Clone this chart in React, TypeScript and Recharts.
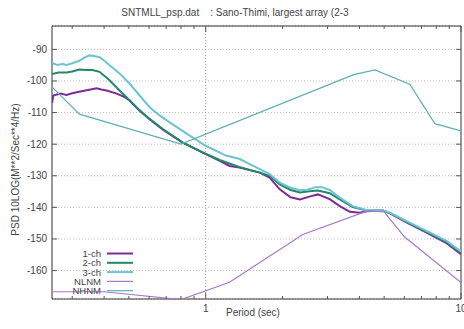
import React from 'react';
import { LineChart, Line, XAxis, YAxis, CartesianGrid, ReferenceLine, ReferenceArea } from 'recharts';

// PSD spectra, [period (sec), dB]
const ch1: [number, number][] = [
  [0.25, -107.0], [0.253, -104.6], [0.27, -104.0], [0.285, -104.4], [0.3, -103.9], [0.33, -103.2],
  [0.35, -102.8], [0.374, -102.3], [0.39, -102.7], [0.409, -103.0], [0.448, -104.0], [0.482, -105.1],
  [0.503, -106.2], [0.551, -109.4], [0.603, -112.1], [0.678, -115.3], [0.812, -119.5], [0.973, -122.7],
  [1.135, -125.3], [1.24, -126.9], [1.36, -127.4], [1.5, -128.3], [1.63, -129.0], [1.78, -130.6],
  [1.95, -134.3], [2.15, -136.8], [2.34, -137.5], [2.55, -136.6], [2.75, -135.9], [3.06, -137.4],
  [3.35, -139.6], [3.67, -141.4], [4.02, -141.7], [4.27, -141.2], [4.94, -141.0], [5.27, -141.9],
  [6.14, -144.8], [7.36, -148.1], [8.81, -151.4], [9.7, -154.0], [10, -154.8],
];

const ch2: [number, number][] = [
  [0.25, -97.8], [0.265, -97.3], [0.285, -97.3], [0.3, -97.0], [0.32, -96.4], [0.34, -96.5],
  [0.36, -96.5], [0.384, -97.1], [0.42, -99.8], [0.46, -103.0], [0.503, -106.1], [0.551, -109.3],
  [0.603, -112.0], [0.678, -115.2], [0.812, -119.4], [0.973, -122.6], [1.135, -125.0], [1.36, -127.3],
  [1.63, -129.0], [1.78, -130.0], [1.95, -132.7], [2.15, -134.5], [2.34, -135.3], [2.55, -134.9],
  [2.75, -134.7], [3.06, -135.5], [3.35, -137.5], [3.77, -139.9], [4.27, -141.0], [4.94, -141.0],
  [5.27, -141.8], [6.14, -144.6], [7.36, -147.8], [8.81, -151.0], [9.7, -153.6], [10, -154.3],
];

const ch3: [number, number][] = [
  [0.25, -94.3], [0.262, -94.9], [0.275, -94.6], [0.285, -94.9], [0.3, -94.4], [0.32, -93.6],
  [0.335, -92.6], [0.35, -91.9], [0.365, -92.1], [0.384, -92.5], [0.4, -93.5], [0.42, -95.0],
  [0.46, -97.6], [0.503, -100.8], [0.551, -104.6], [0.603, -108.3], [0.66, -110.9], [0.722, -113.1],
  [0.866, -117.3], [1.0, -120.5], [1.2, -123.6], [1.36, -124.7], [1.5, -126.5], [1.63, -127.9],
  [1.78, -129.5], [1.95, -132.2], [2.15, -133.8], [2.34, -134.6], [2.5, -134.4], [2.7, -133.6],
  [2.85, -133.6], [3.06, -134.5], [3.35, -136.9], [3.77, -139.6], [4.27, -140.9], [4.94, -141.0],
  [5.27, -141.7], [6.14, -144.4], [7.36, -147.5], [8.81, -150.7], [9.7, -153.2], [10, -154.0],
];

// Peterson low / high noise models
const nlnm: [number, number][] = [
  [0.25, -166.7], [0.4, -166.7], [0.8, -169.2], [1.24, -163.7], [2.4, -148.6],
  [4.3, -141.1], [5.0, -141.4], [6.0, -149.3], [10, -163.8],
];

const nhnm: [number, number][] = [
  [0.25, -101.9], [0.32, -110.5], [0.8, -120.0], [3.8, -98.0], [4.6, -96.5],
  [6.3, -101.0], [7.9, -113.5], [10, -115.8],
];

const xTicks = [0.3, 0.4, 0.5, 0.6, 0.7, 0.8, 0.9, 1, 2, 3, 4, 5, 6, 7, 8, 9, 10];
const yTicks = [-160, -150, -140, -130, -120, -110, -100, -90];

const series = [
  { name: '1-ch', data: ch1, color: '#7d2a98', width: 2 },
  { name: '2-ch', data: ch2, color: '#23876a', width: 2 },
  { name: '3-ch', data: ch3, color: '#6cc3d3', width: 2 },
  { name: 'NLNM', data: nlnm, color: '#a878c6', width: 1.2 },
  { name: 'NHNM', data: nhnm, color: '#5eafb0', width: 1.2 },
];

const FONT = '"Liberation Sans", Arial, sans-serif';
const PLOT_TOP = 26;
const PLOT_LEFT = 52;
const PLOT_RIGHT = 461;

const toRows = (pts: [number, number][]) => pts.map(([period, psd]) => ({ period, psd }));

const XTick = ({ x, y, payload }: any) => {
  const major = payload.value === 1 || payload.value === 10;
  const len = major ? 6 : 3;
  return (
    <g>
      <line x1={x} x2={x} y1={y} y2={y - len} stroke="#555" />
      <line x1={x} x2={x} y1={PLOT_TOP} y2={PLOT_TOP + len} stroke="#555" />
      {major && (
        <text x={x} y={y + 13} textAnchor="middle" fontSize={10} fill="#444" fontFamily={FONT}>
          {payload.value}
        </text>
      )}
    </g>
  );
};

const YTick = ({ x, y, payload }: any) => (
  <g>
    <line x1={x} x2={x + 5} y1={y} y2={y} stroke="#555" />
    <line x1={PLOT_RIGHT - 5} x2={PLOT_RIGHT} y1={y} y2={y} stroke="#555" />
    <text x={x - 5} y={y + 3.5} textAnchor="end" fontSize={10} fill="#444" fontFamily={FONT}>
      {payload.value}
    </text>
  </g>
);

// key drawn over the lower-left corner of the plot
const LegendBox = () => (
  <svg width={140} height={50} style={{ position: 'absolute', left: 0, top: 248 }}>
    {series.map((s, i) => (
      <g key={s.name}>
        <text x={101} y={9 + i * 9.3} textAnchor="end" fontSize={9.5} fill="#444" fontFamily={FONT}>
          {s.name}
        </text>
        <line x1={107} x2={133} y1={5.5 + i * 9.3} y2={5.5 + i * 9.3} stroke={s.color} strokeWidth={s.width} />
      </g>
    ))}
  </svg>
);

export default function App() {
  return (
    <div style={{ position: 'absolute', left: 0, top: 0, width: 464, height: 329, background: '#fff', fontFamily: FONT }}>
      <div style={{ position: 'absolute', left: 0, width: 470, top: 7, textAlign: 'center', fontSize: 10, color: '#444', whiteSpace: 'pre' }}>
        {'SNTMLL_psp.dat    : Sano-Thimi, largest array (2-3'}
      </div>
      <LineChart width={464} height={329} margin={{ top: PLOT_TOP, right: 3, bottom: 0, left: 0 }}>
        <CartesianGrid vertical={false} stroke="#bbb" strokeDasharray="1 2" />
        <XAxis
          dataKey="period"
          type="number"
          scale="log"
          domain={[0.25, 10]}
          allowDataOverflow
          ticks={xTicks}
          interval={0}
          height={30}
          tickSize={0}
          tickMargin={0}
          axisLine={false}
          tick={<XTick />}
        />
        <YAxis
          type="number"
          domain={[-169, -82.6]}
          allowDataOverflow
          ticks={yTicks}
          interval={0}
          width={PLOT_LEFT}
          tickSize={0}
          tickMargin={0}
          axisLine={false}
          tick={<YTick />}
        />
        <ReferenceLine x={1} stroke="#999" strokeDasharray="1 2" />
        {series.map((s) => (
          <Line
            key={s.name}
            data={toRows(s.data)}
            dataKey="psd"
            name={s.name}
            stroke={s.color}
            strokeWidth={s.width}
            dot={false}
            activeDot={false}
            isAnimationActive={false}
          />
        ))}
        <ReferenceArea x1={0.25} x2={10} y1={-169} y2={-82.6} fill="none" stroke="#333" strokeWidth={1} />
      </LineChart>
      <LegendBox />
      <div style={{ position: 'absolute', left: 200, width: 106, top: 307, textAlign: 'center', fontSize: 10, color: '#444' }}>
        Period (sec)
      </div>
      <div
        style={{
          position: 'absolute', left: 15, top: 170, width: 200, marginLeft: -100, marginTop: -6,
          textAlign: 'center', fontSize: 10, color: '#444', transform: 'rotate(-90deg)', whiteSpace: 'nowrap',
        }}
      >
        PSD 10LOG(M**2/Sec**4/Hz)
      </div>
    </div>
  );
}
